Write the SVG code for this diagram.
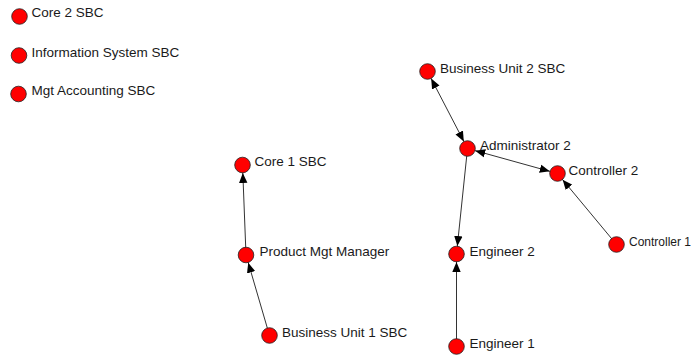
<svg xmlns="http://www.w3.org/2000/svg" width="696" height="358" viewBox="0 0 696 358">
  <style>
    .node circle { fill: #ff0000; stroke: #222; stroke-width: 0.8; }
    .node text { font-family: "Liberation Sans", Arial, sans-serif; font-size: 13.5px; fill: #1a1a1a; }
    .node text.narrow { font-size: 12px; }
    .edge { stroke: #333; stroke-width: 1; fill: none; }
  </style>
  <defs>
    <marker id="arrow" viewBox="0 0 20 10" refX="18" refY="5" markerWidth="20" markerHeight="10" markerUnits="userSpaceOnUse" orient="auto-start-reverse">
      <path d="M0,0.8 L10,5 L0,9.2 Z" fill="#000"/>
    </marker>
  </defs>
  <rect width="696" height="358" fill="#fff"/>
  <g id="connectors">
    <line class="edge" x1="427.5" y1="71.5" x2="467.5" y2="148.5" marker-start="url(#arrow)" marker-end="url(#arrow)"/>
    <line class="edge" x1="467.5" y1="148.5" x2="557.5" y2="173.5" marker-start="url(#arrow)" marker-end="url(#arrow)"/>
    <line class="edge" x1="467.5" y1="148.5" x2="456.5" y2="254" marker-end="url(#arrow)"/>
    <line class="edge" x1="456.5" y1="346.5" x2="456.5" y2="254" marker-end="url(#arrow)"/>
    <line class="edge" x1="616.5" y1="244.5" x2="557.5" y2="173.5" marker-end="url(#arrow)"/>
    <line class="edge" x1="246" y1="255" x2="242.5" y2="165" marker-end="url(#arrow)"/>
    <line class="edge" x1="269.5" y1="335.5" x2="246" y2="255" marker-end="url(#arrow)"/>
  </g>
  <g id="core2" class="node"><circle cx="19.5" cy="16.5" r="7.8"/><text x="31.5" y="17">Core 2 SBC</text></g>
  <g id="infosys" class="node"><circle cx="19" cy="55.5" r="7.8"/><text x="31.5" y="56.5">Information System SBC</text></g>
  <g id="mgtacc" class="node"><circle cx="18.5" cy="94" r="7.8"/><text x="31.5" y="95">Mgt Accounting SBC</text></g>
  <g id="bu2" class="node"><circle cx="427.5" cy="71.5" r="7.8"/><text x="440" y="73">Business Unit 2 SBC</text></g>
  <g id="admin2" class="node"><circle cx="467.5" cy="148.5" r="7.8"/><text x="480" y="150">Administrator 2</text></g>
  <g id="ctrl2" class="node"><circle cx="557.5" cy="173.5" r="7.8"/><text x="568.5" y="175">Controller 2</text></g>
  <g id="ctrl1" class="node"><circle cx="616.5" cy="244.5" r="7.8"/><text class="narrow" x="629" y="246">Controller 1</text></g>
  <g id="eng2" class="node"><circle cx="456.5" cy="254" r="7.8"/><text x="469.5" y="255.5">Engineer 2</text></g>
  <g id="eng1" class="node"><circle cx="456.5" cy="346.5" r="7.8"/><text x="469.5" y="348">Engineer 1</text></g>
  <g id="core1" class="node"><circle cx="242.5" cy="165" r="7.8"/><text x="254.5" y="166">Core 1 SBC</text></g>
  <g id="pmm" class="node"><circle cx="246" cy="255" r="7.8"/><text x="259.5" y="256">Product Mgt Manager</text></g>
  <g id="bu1" class="node"><circle cx="269.5" cy="335.5" r="7.8"/><text x="282" y="337">Business Unit 1 SBC</text></g>
</svg>
